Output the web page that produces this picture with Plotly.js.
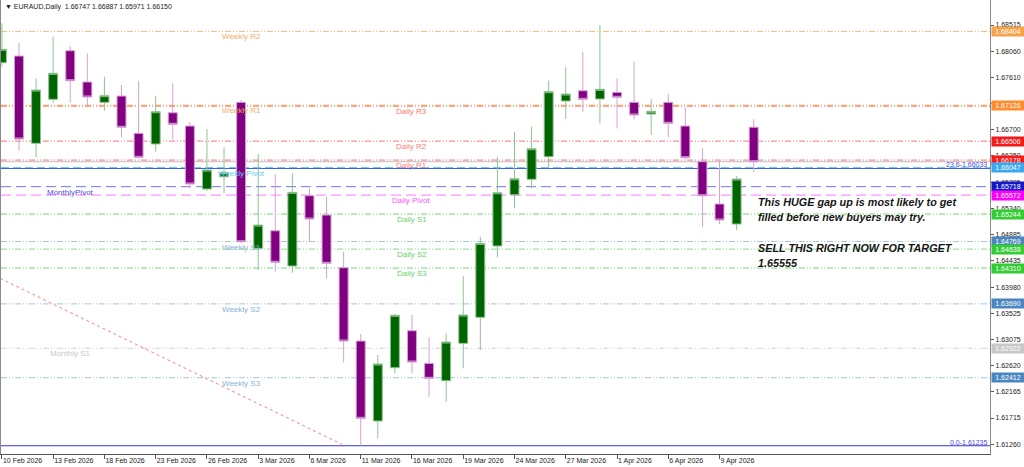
<!DOCTYPE html>
<html><head><meta charset="utf-8">
<script src="https://cdn.plot.ly/plotly-3.0.1.min.js"></script>
<style>html,body{margin:0;padding:0;background:#fff;}#chart{width:1024px;height:467px;}</style>
</head><body><div id="chart"></div>
<script>
// ---------- DATA ----------
const symbol = "EURAUD,Daily";
const dates = ["10 Feb 2026","11 Feb 2026","12 Feb 2026","13 Feb 2026","16 Feb 2026","17 Feb 2026","18 Feb 2026","19 Feb 2026","20 Feb 2026",
  "23 Feb 2026","24 Feb 2026","25 Feb 2026","26 Feb 2026","27 Feb 2026","2 Mar 2026","3 Mar 2026","4 Mar 2026","5 Mar 2026","6 Mar 2026",
  "9 Mar 2026","10 Mar 2026","11 Mar 2026","12 Mar 2026","13 Mar 2026","16 Mar 2026","17 Mar 2026","18 Mar 2026","19 Mar 2026","20 Mar 2026",
  "23 Mar 2026","24 Mar 2026","25 Mar 2026","26 Mar 2026","27 Mar 2026","30 Mar 2026","31 Mar 2026","1 Apr 2026","2 Apr 2026","3 Apr 2026",
  "6 Apr 2026","7 Apr 2026","8 Apr 2026","9 Apr 2026","10 Apr 2026","13 Apr 2026"];
const openP  = [1.67863,1.67979,1.66468,1.67229,1.68070,1.67529,1.67177,1.67286,1.66641,1.66456,1.66997,1.66767,1.65677,1.65890,1.67177,1.64651,1.64955,1.64345,1.65561,1.65227,1.64315,1.63047,1.61663,1.62585,1.63225,1.62660,1.62360,1.63007,1.63457,1.64691,1.65578,1.65845,1.66236,1.67200,1.67378,1.67235,1.67350,1.67177,1.66975,1.67177,1.66767,1.66150,1.65418,1.65071,1.66747];
const highP  = [1.68544,1.68209,1.67593,1.68313,1.68152,1.68025,1.67620,1.67477,1.67546,1.67292,1.67506,1.66842,1.66715,1.66399,1.67217,1.66283,1.65937,1.65949,1.65689,1.65544,1.64592,1.63168,1.62805,1.63514,1.63497,1.63111,1.63180,1.64172,1.64852,1.66236,1.66669,1.66755,1.67551,1.67783,1.68053,1.68514,1.67593,1.67880,1.67229,1.67325,1.67091,1.66382,1.66167,1.65900,1.66887];
const lowP   = [1.67793,1.66340,1.66226,1.67171,1.67171,1.67113,1.67032,1.66572,1.66208,1.66323,1.66542,1.65689,1.65648,1.65603,1.64743,1.64276,1.64247,1.64229,1.64765,1.64132,1.62678,1.61240,1.61363,1.62488,1.62488,1.62083,1.61997,1.62574,1.62891,1.64495,1.65343,1.65689,1.66035,1.66888,1.67015,1.66814,1.66727,1.66883,1.66612,1.66572,1.66191,1.65014,1.65071,1.64966,1.65971];
const closeP = [1.68095,1.66542,1.67390,1.67679,1.67551,1.67269,1.67292,1.66745,1.66226,1.67015,1.66797,1.65764,1.66006,1.65959,1.64765,1.65054,1.64409,1.65620,1.65158,1.64391,1.63047,1.61709,1.62649,1.63492,1.62683,1.62401,1.63030,1.63497,1.64737,1.65613,1.65855,1.66374,1.67361,1.67321,1.67229,1.67402,1.67264,1.66958,1.67022,1.66814,1.66219,1.65561,1.65141,1.65850,1.66150];

const pivotNames  = ["Weekly R2","Daily R3","Weekly R1","Daily R2","Daily R1","Weekly Pivot","MonthlyPivot","Daily Pivot","Daily S1","Weekly S1","Daily S2","Daily S3","Weekly S2","Monthly S1","Weekly S3"];
const pivotValues = [1.68404,1.67112,1.67126,1.66506,1.66178,1.66047,1.65718,1.65572,1.65244,1.64769,1.64638,1.64310,1.63690,1.62922,1.62412];

const fibNames  = ["23.6","0.0"];
const fibValues = [1.66033,1.61235];
const bidPrice  = 1.66150;

const priceTicks = [1.68515,1.68060,1.67610,1.67160,1.66700,1.66250,1.65795,1.65340,1.64885,1.64435,1.63980,1.63525,1.63075,1.62620,1.62165,1.61715,1.61260];

const trendBars   = [-0.11, 19.9];
const trendPrices = [1.64132, 1.61259];

const noteLines = ["This HUGE gap up is most likely to get","filled before new buyers may try.","","SELL THIS RIGHT NOW FOR TARGET","1.65555"];

// ---------- STYLE ----------
const PLOT_H = 454, PLOT_L = 1, PLOT_W = 989;
const groupStyle = {
  "Weekly": {bar:14}, "Daily": {bar:24}, "Monthly": {bar:4}
};
const levelStyle = {
  "Weekly R2":   {line:'#FFB877', dash:'6px,2px,1px,2px,1px,2px', text:'#F5AC62', box:'#F9A24B'},
  "Daily R3":    {line:'#FF6A50', dash:'6px,2px,1px,2px,1px,2px', text:'#FF7A6A', box:null},
  "Weekly R1":   {line:'#FF9A55', dash:'6px,2px,1px,2px,1px,2px', text:'#F5AC62', box:'#FF8C2E'},
  "Daily R2":    {line:'#FF7373', dash:'6px,2px,1px,2px,1px,2px', text:'#FF7A7A', box:'#F51B1B'},
  "Daily R1":    {line:'#FF6E6E', dash:'6px,2px,1px,2px,1px,2px', text:'#FF7A7A', box:'#F51B1B'},
  "Weekly Pivot":{line:'#5CC8F5', dash:'8px,4px', text:'#6CCCF0', box:'#3AA8F0'},
  "MonthlyPivot":{line:'#7474F2', dash:'10px,5px', text:'#4F4FE0', box:'#1717C8'},
  "Daily Pivot": {line:'#FF78FF', dash:'10px,5px', text:'#FF50FF', box:'#FF00FF'},
  "Daily S1":    {line:'#72D672', dash:'6px,2px,1px,2px,1px,2px', text:'#6CD06C', box:'#33CC33'},
  "Weekly S1":   {line:'#A6C6E6', dash:'6px,2px,1px,2px,1px,2px', text:'#8AB2DA', box:'#4A86C0'},
  "Daily S2":    {line:'#86DC86', dash:'6px,2px,1px,2px,1px,2px', text:'#6CD06C', box:'#33CC33'},
  "Daily S3":    {line:'#72D672', dash:'6px,2px,1px,2px,1px,2px', text:'#6CD06C', box:'#33CC33'},
  "Weekly S2":   {line:'#A6C6E6', dash:'6px,2px,1px,2px,1px,2px', text:'#8AB2DA', box:'#4A86C0'},
  "Monthly S1":  {line:'#D2D2D2', dash:'6px,2px,1px,2px,1px,2px', text:'#C8C8C8', box:'#C8C8C8'},
  "Weekly S3":   {line:'#A6C6E6', dash:'6px,2px,1px,2px,1px,2px', text:'#8AB2DA', box:'#4A86C0'}
};
const fibColor = ['#2F5FE6','#3535D0'];
const FONT = 'Liberation Sans, Arial, sans-serif';

// ---------- BUILD ----------
const idx = dates.map((d,i)=>i);
const tickIdx = idx.filter(i=>i%3===0);

const candle = {
  type:'candlestick', x:idx, open:openP, high:highP, low:lowP, close:closeP,
  increasing:{line:{color:'#8FC48F', width:1}, fillcolor:'#006400'},
  decreasing:{line:{color:'#D6A2D6', width:1}, fillcolor:'#800080'},
  whiskerwidth:0, hoverinfo:'skip', showlegend:false
};

const shapes = [];
const annotations = [];

pivotNames.forEach((name,i)=>{
  const st = levelStyle[name];
  shapes.push({type:'line', layer:'below', xref:'paper', x0:0, x1:1, yref:'y', y0:pivotValues[i], y1:pivotValues[i],
    line:{color:st.line, width:1, dash:st.dash}});
  const grp = name.startsWith('Weekly') ? 'Weekly' : name.startsWith('Daily') ? 'Daily' : 'Monthly';
  annotations.push({xref:'x', yref:'y', x:groupStyle[grp].bar, y:pivotValues[i], text:name, showarrow:false,
    xanchor:'center', yanchor:'top', yshift:1, font:{family:FONT, size:8, color:st.text}});
});

// bid line
shapes.push({type:'line', layer:'below', xref:'paper', x0:0, x1:1, yref:'y', y0:bidPrice, y1:bidPrice, line:{color:'#BEBEBE', width:1}});

// fib lines
fibValues.forEach((v,i)=>{
  shapes.push({type:'line', layer:'below', xref:'paper', x0:0, x1:1, yref:'y', y0:v, y1:v, line:{color:fibColor[i], width:1}});
  annotations.push({xref:'paper', yref:'y', x:1, y:v, xanchor:'right', yanchor:'bottom', xshift:-1, yshift:-2,
    text:fibNames[i]+'-'+v.toFixed(5), showarrow:false, font:{family:FONT, size:7, color:'#4A4AE8'}});
});

// trend line
shapes.push({type:'line', layer:'below', xref:'x', yref:'y', x0:trendBars[0], x1:trendBars[1], y0:trendPrices[0], y1:trendPrices[1],
  line:{color:'#FF8080', width:1, dash:'dot'}});

// price boxes on right axis
pivotNames.forEach((name,i)=>{
  const st = levelStyle[name];
  if(!st.box) return;
  annotations.push({xref:'paper', yref:'y', x:1, y:pivotValues[i], xanchor:'left', yanchor:'middle', xshift:1,
    text:pivotValues[i].toFixed(5), showarrow:false, bgcolor:st.box, borderpad:1, width:30,
    font:{family:FONT, size:7, color:'#FFFFFF'}});
});

// header
const last = dates.length-1;
annotations.push({xref:'paper', yref:'paper', x:0, y:1, xanchor:'left', yanchor:'top', xshift:2, yshift:-1, showarrow:false,
  text:'\u25BC '+symbol+'  '+[openP[last],highP[last],lowP[last],closeP[last]].map(v=>v.toFixed(5)).join(' '),
  font:{family:FONT, size:7, color:'#222'}});

// note text
const noteY = [201.7, 216.7, null, 248.3, 262.7];
noteLines.forEach((t,i)=>{
  if(!t) return;
  annotations.push({xref:'paper', yref:'paper', x:(755.7-PLOT_L)/PLOT_W, y:1-noteY[i]/PLOT_H, xanchor:'left', yanchor:'middle',
    showarrow:false, text:'<b><i>'+t+'</i></b>', font:{family:FONT, size:10.8, color:'#141414'}});
});

const layout = {
  width:1024, height:467,
  margin:{l:PLOT_L, r:1024-PLOT_L-PLOT_W, t:0, b:467-PLOT_H, pad:0},
  paper_bgcolor:'#ffffff', plot_bgcolor:'#ffffff',
  showlegend:false, boxgap:0.25,
  font:{family:FONT, size:7, color:'#222'},
  xaxis:{type:'linear', range:[-0.053, 57.83], rangeslider:{visible:false}, showgrid:false, zeroline:false,
    showline:true, linecolor:'#555', linewidth:1, tickmode:'array', tickvals:tickIdx, ticktext:tickIdx.map(i=>dates[i]),
    ticks:'outside', ticklen:4, tickcolor:'#555', ticklabelposition:'outside right', tickfont:{family:FONT, size:7, color:'#222'}, fixedrange:true},
  yaxis:{side:'right', range:[1.61092, 1.68948], showgrid:false, zeroline:false, showline:true, mirror:true,
    linecolor:'#8a8a8a', linewidth:1, tickmode:'array', tickvals:priceTicks, ticktext:priceTicks.map(v=>v.toFixed(5)),
    ticks:'outside', ticklen:3, tickcolor:'#555', tickfont:{family:FONT, size:7, color:'#222'}, fixedrange:true},
  shapes:shapes, annotations:annotations
};

Plotly.newPlot('chart', [candle], layout, {staticPlot:true, displayModeBar:false});
</script>
</body></html>
